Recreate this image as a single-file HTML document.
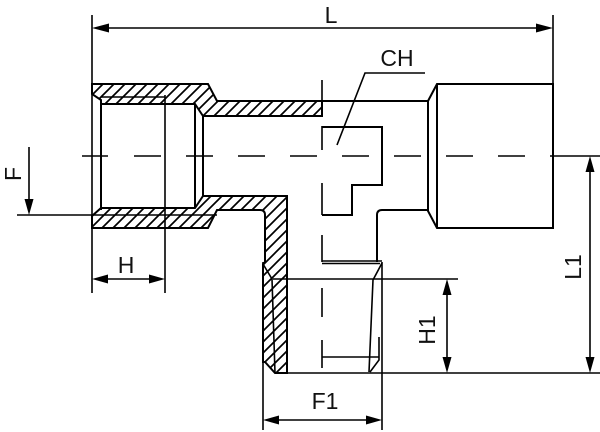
<!DOCTYPE html>
<html><head><meta charset="utf-8"><style>
html,body{margin:0;padding:0;background:#fff;}
svg{display:block;}
text{font-family:"Liberation Sans","DejaVu Sans",sans-serif;font-size:23px;fill:#111;}
</style></head><body>
<svg width="600" height="432" viewBox="0 0 600 432" xmlns="http://www.w3.org/2000/svg">
<defs>
<pattern id="h" patternUnits="userSpaceOnUse" width="11" height="11">
<path d="M-2,2 L2,-2 M0,11 L11,0 M9,13 L13,9" stroke="#000" stroke-width="1.7"/>
</pattern>
</defs>
<g fill="none" stroke="#000" stroke-linecap="butt" stroke-linejoin="miter">
<!-- hatched regions -->
<path d="M92,84 L208,84 L217,101 L322,101 L322,116 L203,116 L195,104 L101,104 L101,100 L92,94 Z" fill="url(#h)" stroke-width="2"/>
<path d="M92,228 L92,216 L101,208 L195,208 L203,196 L287,196 L287,373 L275,373 L265,362 L263,362 L263,264 L265,262 L265,215 Q265,210 260,210 L217,210 L208,228 Z" fill="url(#h)" stroke-width="2"/>
<!-- left internal lines -->
<path d="M101,100 L101,210" stroke-width="2"/>
<path d="M101,97 L165,97" stroke-width="1.6"/>
<path d="M195,104 L195,208" stroke-width="2"/>
<path d="M203,116 L203,196" stroke-width="2"/>
<!-- branch thread internal -->
<path d="M263,264 L272,279 L275,373" stroke-width="1.6"/>
<!-- neck top (unhatched) and hex -->
<path d="M322,101 L428,101" stroke-width="2"/>
<path d="M428,101 L437,84 L553,84 L553,228 L437,228 L428,211 Z" stroke-width="2"/>
<path d="M437,84 L437,228" stroke-width="2"/>
<path d="M377,262 L377,215 Q377,210 382,210 L428,210" stroke-width="2"/>
<!-- CH inner shape -->
<path d="M322,127 L382,127 L382,185 L352,185 L352,215 L322,215" stroke-width="2"/>
<!-- right thread -->
<path d="M322,261 L382,261" stroke-width="1.4"/>
<path d="M322,263.5 L380,263.5" stroke-width="1.4"/>
<path d="M382,263 L373,280 L369,372" stroke-width="1.6"/>
<path d="M379,337 L379,360 L370,372" stroke-width="1.6"/>
<path d="M322,357 L379,357" stroke-width="1.6"/>
<!-- extension lines -->
<path d="M92,15 L92,293" stroke-width="1.6"/>
<path d="M165,95 L165,293" stroke-width="1.6"/>
<path d="M553,15 L553,84" stroke-width="1.6"/>
<path d="M17,215 L217,215" stroke-width="1.6"/>
<path d="M263,262 L263,430" stroke-width="1.6"/>
<path d="M382,262 L382,430" stroke-width="1.6"/>
<path d="M275,373 L600,373" stroke-width="1.6"/>
<path d="M273,279 L458,279" stroke-width="1.6"/>
<path d="M550,156 L600,156" stroke-width="1.6"/>
<!-- center lines -->
<path d="M82,156 L108,156 M134,156 L161,156 M186,156 L213,156 M238,156 L265,156 M290,156 L317,156 M342,156 L369,156 M394,156 L421,156 M446,156 L473,156 M498,156 L525,156" stroke-width="1.6"/>
<path d="M322,80 L322,117 M322,126 L322,150 M322,183 L322,215 M322,235 L322,262 M322,288 L322,317 M322,340 L322,368" stroke-width="1.6"/>
<!-- CH leader -->
<path d="M337,145 L365,73 L425,73" stroke-width="1.6"/>
<!-- dimension lines -->
<path d="M100,28 L545,28" stroke-width="1.6"/>
<path d="M100,279 L157,279" stroke-width="1.6"/>
<path d="M271,420 L374,420" stroke-width="1.6"/>
<path d="M447,287 L447,365" stroke-width="1.6"/>
<path d="M590,164 L590,365" stroke-width="1.6"/>
<path d="M29,147 L29,205" stroke-width="1.6"/>
</g>
<!-- arrowheads -->
<g fill="#000" stroke="none">
<polygon points="92,28 109,23.5 109,32.5"/>
<polygon points="553,28 536,23.5 536,32.5"/>
<polygon points="92,279 108,274.5 108,283.5"/>
<polygon points="165,279 149,274.5 149,283.5"/>
<polygon points="263,420 279,415.5 279,424.5"/>
<polygon points="382,420 366,415.5 366,424.5"/>
<polygon points="447,279 442.5,295 451.5,295"/>
<polygon points="447,373 442.5,357 451.5,357"/>
<polygon points="590,156 585.5,172 594.5,172"/>
<polygon points="590,373 585.5,357 594.5,357"/>
<polygon points="29,215 24.5,199 33.5,199"/>
</g>
<!-- labels -->
<text x="331" y="23" text-anchor="middle">L</text>
<text x="397" y="66" text-anchor="middle">CH</text>
<text x="126" y="273" text-anchor="middle">H</text>
<text x="325" y="409" text-anchor="middle">F1</text>
<text x="13" y="182" text-anchor="middle" transform="rotate(-90 13 174)">F</text>
<text x="427" y="338" text-anchor="middle" transform="rotate(-90 427 330)">H1</text>
<text x="573" y="275" text-anchor="middle" transform="rotate(-90 573 267)">L1</text>
</svg>
</body></html>
